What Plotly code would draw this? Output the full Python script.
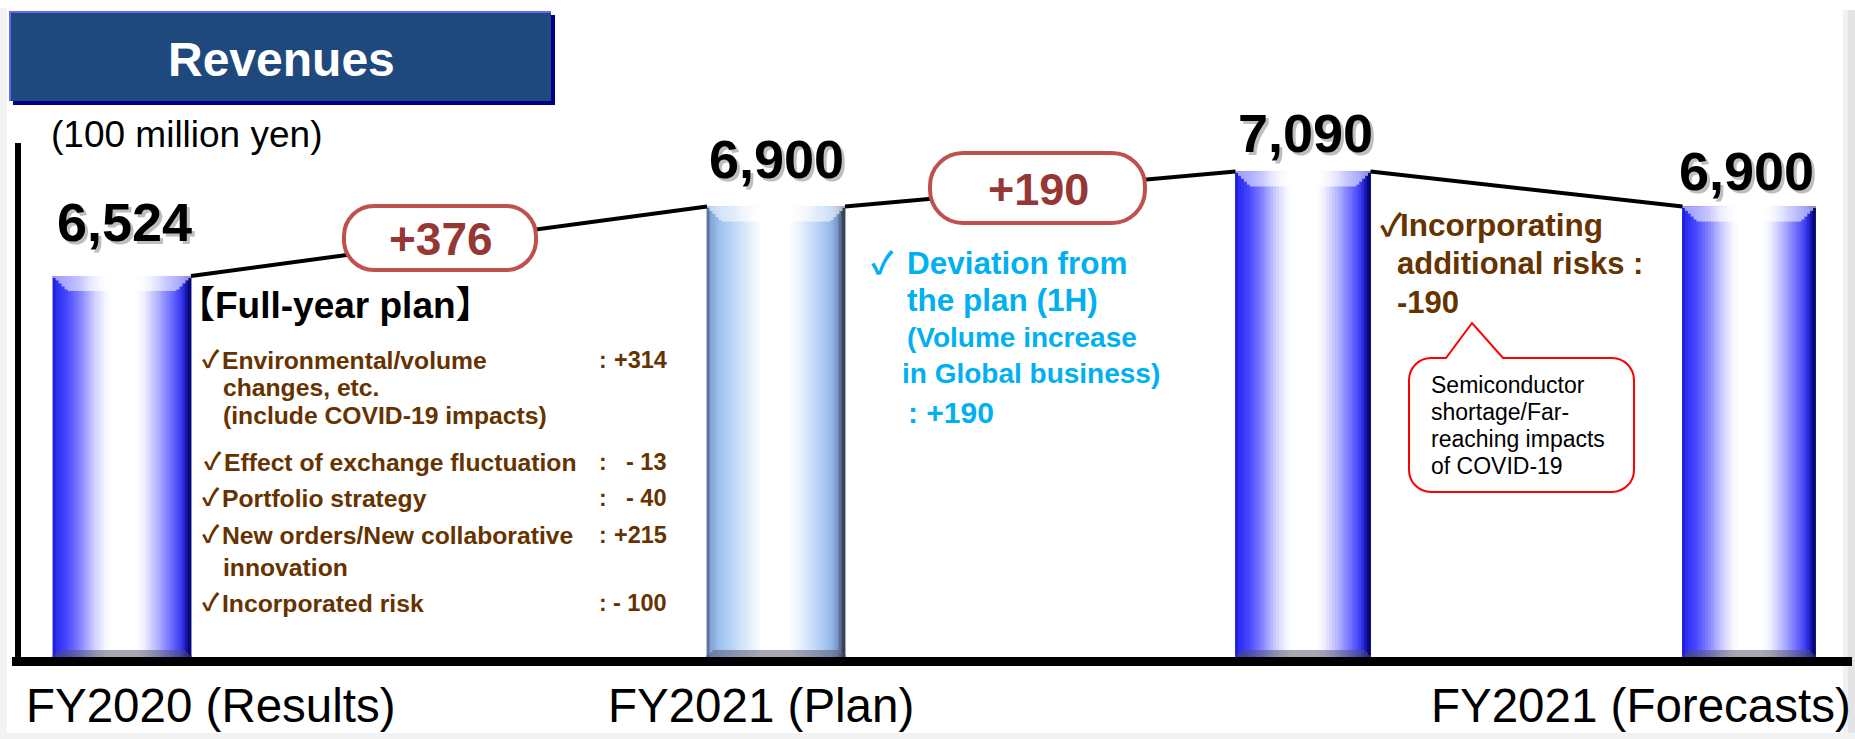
import plotly.graph_objects as go

# ---------------- data ----------------
CATEGORIES = ["FY2020 (Results)", "FY2021 (Plan)", "", "FY2021 (Forecasts)"]
REVENUES = [6524, 6900, 7090, 6900]
STEP_CHANGES = ["+376", "+190"]
PLAN_ITEMS = [
    ["Environmental/volume", "changes, etc.", "(include COVID-19 impacts)"],
    ["Effect of exchange fluctuation"],
    ["Portfolio strategy"],
    ["New orders/New collaborative", "innovation"],
    ["Incorporated risk"],
]
PLAN_VALUES = [314, -13, -40, 215, -100]
DEVIATION_LINES = ["Deviation from", "the plan (1H)", "(Volume increase", "in Global business)"]
DEVIATION_VALUE = 190
RISK_LINES = ["Incorporating", "additional risks :"]
RISK_VALUE = -190
CALLOUT_LINES = ["Semiconductor", "shortage/Far-", "reaching impacts", "of COVID-19"]
TITLE = "Revenues"
UNIT = "(100 million yen)"

# ---------------- layout constants ----------------
W, H = 1855, 739
PB = 657                      # plot-area bottom (px)
Y_RANGE = [4461, 8018]        # value axis range (broken axis)
S = PB / (Y_RANGE[1] - Y_RANGE[0])   # px per unit
BAR_CENTER = [122, 776, 1303, 1749]
BAR_WIDTH = [138, 138, 135, 133]
LABEL_LIFT = [54, 48, 38, 36]
LABEL_DX = [2, 0, 2, -3]
FONT = "Liberation Sans, Arial, DejaVu Sans, Noto Sans CJK JP"
CHECK_FONT = "Noto Sans CJK JP, DejaVu Sans"
BROWN = "#663300"
CYAN = "#00B0F0"

BLUE_STOPS = [(0.00, (20, 20, 200)), (0.02, (40, 40, 240)), (0.10, (70, 70, 255)),
              (0.20, (130, 130, 255)), (0.30, (205, 205, 255)), (0.38, (245, 245, 255)),
              (0.42, (255, 255, 255)), (0.60, (255, 255, 255)), (0.66, (240, 240, 255)),
              (0.76, (180, 180, 255)), (0.86, (110, 110, 255)), (0.93, (60, 60, 245)),
              (0.97, (20, 20, 170)), (1.00, (0, 0, 90))]
PLAN_STOPS = [(0.00, (70, 90, 120)), (0.03, (130, 165, 215)), (0.10, (160, 195, 240)),
              (0.22, (195, 220, 248)), (0.32, (230, 240, 252)), (0.40, (255, 255, 255)),
              (0.60, (255, 255, 255)), (0.70, (225, 237, 252)), (0.82, (180, 208, 245)),
              (0.90, (150, 185, 232)), (0.95, (120, 150, 200)), (0.98, (70, 85, 110)),
              (1.00, (40, 45, 60))]


def interp(stops, t):
    for (t0, c0), (t1, c1) in zip(stops[:-1], stops[1:]):
        if t0 <= t <= t1:
            f = 0 if t1 == t0 else (t - t0) / (t1 - t0)
            return tuple(c0[j] + (c1[j] - c0[j]) * f for j in range(3))
    return stops[-1][1]


def blend(c, d, f):
    return tuple(c[j] * (1 - f) + d[j] * f for j in range(3))


def rgb(c):
    return "rgb(%d,%d,%d)" % tuple(int(round(v)) for v in c)


# ---------------- bars as shaded slices ----------------
K = 46
TOP_BEVEL = 15
BOT_BEVEL = 7
body = dict(x=[], y=[], w=[], c=[])
top = dict(x=[], y=[], b=[], w=[], c=[])
bot = dict(x=[], y=[], b=[], w=[], c=[])
for i, (c, w, v) in enumerate(zip(BAR_CENTER, BAR_WIDTH, REVENUES)):
    stops = PLAN_STOPS if i == 1 else BLUE_STOPS
    sw = w / K
    for k in range(K):
        t = (k + 0.5) / K
        col = interp(stops, t)
        xk = c - w / 2 + (k + 0.5) * sw
        d = min((k + 0.5) * sw, w - (k + 0.5) * sw)
        body["x"].append(xk); body["y"].append(v); body["w"].append(sw + 0.9); body["c"].append(rgb(col))
        th = min(TOP_BEVEL, d) / S
        glow = 0.55 + 0.4 * max(0.0, 1 - abs(t - 0.5) / 0.3)
        top["x"].append(xk); top["y"].append(th); top["b"].append(v - th)
        top["w"].append(sw + 0.9); top["c"].append(rgb(blend(col, (255, 255, 255), min(glow, 1.0))))
        bh = min(BOT_BEVEL, d) / S
        bot["x"].append(xk); bot["y"].append(bh); bot["b"].append(Y_RANGE[0])
        bot["w"].append(sw + 0.9); bot["c"].append(rgb(blend(col, (80, 80, 100), 0.5)))

fig = go.Figure()
fig.add_trace(go.Bar(x=body["x"], y=body["y"], width=body["w"],
                     marker=dict(color=body["c"], line=dict(width=0)), hoverinfo="skip"))
fig.add_trace(go.Bar(x=top["x"], y=top["y"], base=top["b"], width=top["w"],
                     marker=dict(color=top["c"], line=dict(width=0)), hoverinfo="skip"))
fig.add_trace(go.Bar(x=bot["x"], y=bot["y"], base=bot["b"], width=bot["w"],
                     marker=dict(color=bot["c"], line=dict(width=0)), hoverinfo="skip"))

# connecting line from top-right of each bar to top-left of the next
lx, ly = [], []
for i in range(len(REVENUES) - 1):
    lx += [BAR_CENTER[i] + BAR_WIDTH[i] / 2, BAR_CENTER[i + 1] - BAR_WIDTH[i + 1] / 2, None]
    ly += [REVENUES[i], REVENUES[i + 1], None]
fig.add_trace(go.Scatter(x=lx, y=ly, mode="lines", line=dict(color="black", width=4),
                         hoverinfo="skip"))

# ---------------- helpers ----------------
def px(x):
    return x / W


def py(y):
    return (PB - y) / PB


annotations = []
shapes = []


def txt(s, x, y, size, color="black", bold=False, xanchor="left", yanchor="middle", family=FONT):
    annotations.append(dict(text=("<b>%s</b>" % s) if bold else s, x=px(x), y=py(y),
                            xref="paper", yref="paper", showarrow=False,
                            xanchor=xanchor, yanchor=yanchor,
                            font=dict(family=family, size=size, color=color)))


def check(x, y, size, color):
    txt("✓", x, y - 3, size, color, bold=True, family=CHECK_FONT)


def rect(x0, y0, x1, y1, fill, line_color=None, lw=0, layer="above"):
    shapes.append(dict(type="rect", xref="paper", yref="paper", x0=px(x0), y0=py(y0),
                       x1=px(x1), y1=py(y1), fillcolor=fill, layer=layer,
                       line=dict(color=line_color or fill, width=lw)))


def P(x, y):
    return "%.5f,%.5f" % (px(x), py(y))


def rrect_path(x0, y0, x1, y1, r, pointer=None):
    k = 0.5523 * r
    s = "M" + P(x0 + r, y0)
    if pointer:
        a, tx, ty, b = pointer
        s += " L" + P(a, y0) + " L" + P(tx, ty) + " L" + P(b, y0)
    s += " L" + P(x1 - r, y0)
    s += " C" + P(x1 - r + k, y0) + " " + P(x1, y0 + r - k) + " " + P(x1, y0 + r)
    s += " L" + P(x1, y1 - r)
    s += " C" + P(x1, y1 - r + k) + " " + P(x1 - r + k, y1) + " " + P(x1 - r, y1)
    s += " L" + P(x0 + r, y1)
    s += " C" + P(x0 + r - k, y1) + " " + P(x0, y1 - r + k) + " " + P(x0, y1 - r)
    s += " L" + P(x0, y0 + r)
    s += " C" + P(x0, y0 + r - k) + " " + P(x0 + r - k, y0) + " " + P(x0 + r, y0) + " Z"
    return s


# ---------------- page frame / axes ----------------
rect(0, 8, 7, 739, "#f3f3f3", layer="below")
rect(1843, 10, 1848, 739, "#f0f0f0", layer="below")
rect(1848, 10, 1855, 739, "#e4e4e4", layer="below")
rect(0, 733, 1855, 739, "#f2f2f2", layer="below")
rect(12, 657, 1852, 666, "black")
rect(15, 143, 21, 666, "black")

# title box
rect(13, 15, 555, 105, "#00008B")
rect(9, 11, 551, 101, "#1F497D")
shapes.append(dict(type="line", xref="paper", yref="paper", x0=px(9), y0=py(12), x1=px(551), y1=py(12),
                   line=dict(color="#6666FF", width=2), layer="above"))
shapes.append(dict(type="line", xref="paper", yref="paper", x0=px(10), y0=py(11), x1=px(10), y1=py(101),
                   line=dict(color="#6666FF", width=2), layer="above"))
txt(TITLE, 281, 59, 48, "white", bold=True, xanchor="center")
txt(UNIT, 49, 134, 37)

# change pills
shapes.append(dict(type="path", xref="paper", yref="paper", path=rrect_path(344, 206, 536, 270, 30),
                   fillcolor="white", line=dict(color="#C0504D", width=4), layer="above"))
shapes.append(dict(type="path", xref="paper", yref="paper", path=rrect_path(930, 153, 1145, 223, 33),
                   fillcolor="white", line=dict(color="#C0504D", width=4), layer="above"))
txt(STEP_CHANGES[0], 441, 239, 46, "#953735", bold=True, xanchor="center")
txt(STEP_CHANGES[1], 1038, 189, 45, "#953735", bold=True, xanchor="center")

# value labels (with soft shadow)
for i, v in enumerate(REVENUES):
    lab = "<b>%s</b>" % format(v, ",")
    for dx, dy, col, op in [(3, -3, "#8a8a8a", 0.55), (0, 0, "black", 1.0)]:
        annotations.append(dict(text=lab, x=BAR_CENTER[i] + LABEL_DX[i], y=v, xref="x", yref="y",
                                showarrow=False, xanchor="center", yanchor="middle",
                                xshift=dx, yshift=LABEL_LIFT[i] + dy, opacity=op,
                                font=dict(family=FONT, size=54, color=col)))

# full-year plan breakdown
txt("【Full-year plan】", 176, 305, 37, "black", bold=True)
line_y = [360, 387, 415, 462, 498, 535, 567, 603]
li = 0
for j, (item, val) in enumerate(zip(PLAN_ITEMS, PLAN_VALUES)):
    for m, part in enumerate(item):
        if m == 0:
            indent = 2 if j == 1 else 0
            check(200 + indent, line_y[li], 24, BROWN)
            txt(part, 220 + indent, line_y[li], 24.7, BROWN, bold=True)
            txt(":", 597, line_y[li], 23, BROWN, bold=True)
            vs = ("+%d" % val) if val > 0 else ("- %d" % abs(val))
            txt(vs, 669, line_y[li], 23.5, BROWN, bold=True, xanchor="right")
        else:
            txt(part, 221, line_y[li], 24.7, BROWN, bold=True)
        li += 1

# deviation from plan (cyan)
check(869, 263, 31, CYAN)
txt(DEVIATION_LINES[0], 905, 263, 31.5, CYAN, bold=True)
txt(DEVIATION_LINES[1], 905, 300, 31.5, CYAN, bold=True)
txt(DEVIATION_LINES[2], 905, 337, 28, CYAN, bold=True)
txt(DEVIATION_LINES[3], 900, 373, 28, CYAN, bold=True)
txt(": +%d" % DEVIATION_VALUE, 906, 412, 30, CYAN, bold=True)

# additional risks (brown)
check(1378, 225, 31, BROWN)
txt(RISK_LINES[0], 1398, 225, 31.5, BROWN, bold=True)
txt(RISK_LINES[1], 1395, 263, 31, BROWN, bold=True)
txt("%d" % RISK_VALUE, 1395, 302, 31, BROWN, bold=True)

# callout
shapes.append(dict(type="path", xref="paper", yref="paper",
                   path=rrect_path(1409, 358, 1634, 492, 22, pointer=(1446, 1472, 323, 1503)),
                   fillcolor="white", line=dict(color="#FF0000", width=2), layer="above"))
for m, s in enumerate(CALLOUT_LINES):
    txt(s, 1429, 385 + m * 27, 23, "black")

# category labels
CAT_X = [211, 761, None, 1641]
for lab, cx in zip(CATEGORIES, CAT_X):
    if lab and cx is not None:
        txt(lab, cx, 705, 47.5, "black", xanchor="center")

fig.update_layout(
    width=W, height=H, margin=dict(l=0, r=0, t=0, b=H - PB),
    paper_bgcolor="white", plot_bgcolor="white",
    barmode="overlay", showlegend=False,
    xaxis=dict(range=[0, W], visible=False, fixedrange=True),
    yaxis=dict(range=Y_RANGE, visible=False, fixedrange=True),
    shapes=shapes, annotations=annotations,
)
fig.write_html("out.html")
